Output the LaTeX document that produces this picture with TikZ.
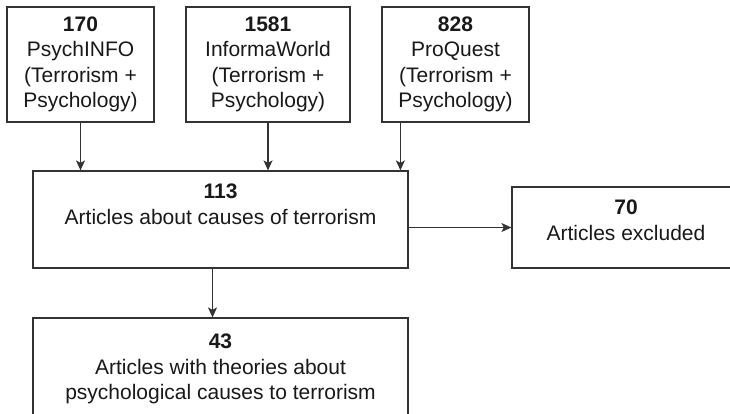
\documentclass[tikz,border=0pt]{standalone}
\usepackage{fontspec}
\setmainfont{Liberation Sans}
\usetikzlibrary{
    arrows.meta,
    positioning
}

\begin{document}
\begin{tikzpicture}[
    x=1pt, y=-1pt,
    font=\fontsize{21}{25.5}\selectfont,
    box/.style={
        rectangle,
        draw=black!80,
        line width=1.2pt,
        inner sep=0pt,
        fill=white
    },
    source/.style={
        box,
        align=center,
        text=black!90,
        minimum height=115pt
    },
    lbl/.style={
        align=center,
        inner sep=0pt,
        text=black!90
    },
    arrow/.style={
        -{Stealth[length=10pt,width=9pt,inset=2.5pt]},
        line width=1.2pt,
        draw=black!80
    }
]

\clip (0,0) rectangle (730,413);

% =========================================================
% Top: databases searched
% =========================================================
\node[source, minimum width=147pt] (psych) at (80.5,64.5)
{\textbf{170}\\PsychINFO\\(Terrorism +\\Psychology)};

\node[source, minimum width=164pt] (informa) at (268,64.5)
{\textbf{1581}\\InformaWorld\\(Terrorism +\\Psychology)};

\node[source, minimum width=147pt] (proquest) at (455.5,64.5)
{\textbf{828}\\ProQuest\\(Terrorism +\\Psychology)};

% =========================================================
% Middle: screening
% =========================================================
\node[box, minimum width=375pt, minimum height=97pt] (causes) at (220.5,219.5) {};
\node[lbl, below=13.5pt of causes.north] (causestext)
{\textbf{113}\\Articles about causes of terrorism};

\node[box, minimum width=228pt, minimum height=81pt] (excluded) at (626,227.5) {};
\node[lbl, below=13.5pt of excluded.north] (excludedtext)
{\textbf{70}\\Articles excluded};

% =========================================================
% Bottom: result
% =========================================================
\node[box, minimum width=375pt, minimum height=122pt] (theories) at (220.5,379) {};
\node[lbl, below=16.5pt of theories.north] (theoriestext)
{\textbf{43}\\Articles with theories about\\psychological causes to terrorism};

% =========================================================
% Arrows
% =========================================================
\coordinate (pqout) at ([xshift=19pt]proquest.south west);
\coordinate (causesout) at ([xshift=-8pt]causes.south);

\draw[arrow] (psych) -- (psych |- causes.north);
\draw[arrow] (informa) -- (informa |- causes.north);
\draw[arrow] (pqout) -- (pqout |- causes.north);

\draw[arrow] (excluded.west -| causes.east) -- (excluded.west);
\draw[arrow] (causesout) -- (causesout |- theories.north);

\end{tikzpicture}
\end{document}
